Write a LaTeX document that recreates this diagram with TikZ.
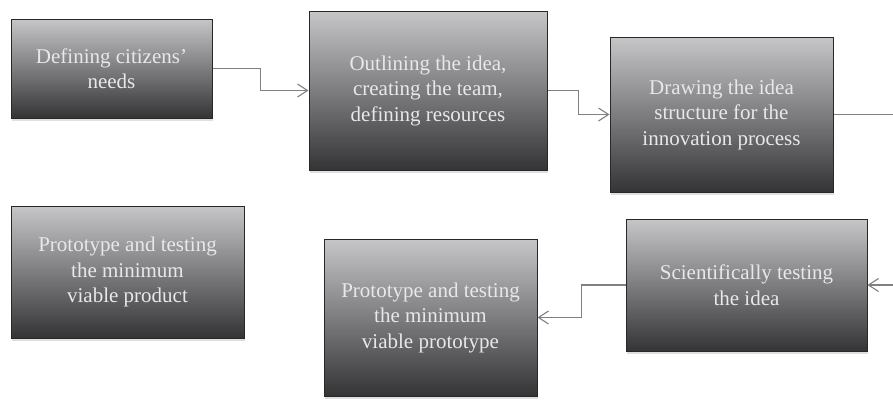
\documentclass[tikz,border=0pt]{standalone}
\usepackage{fontspec}
\setmainfont{Liberation Serif}
\usetikzlibrary{calc,arrows.meta,shadows}
\definecolor{topg}{RGB}{198,198,200}
\definecolor{botg}{RGB}{52,52,54}
\definecolor{edgeg}{RGB}{40,40,40}
\definecolor{textg}{RGB}{232,232,232}
\definecolor{lineg}{RGB}{128,128,128}
\tikzset{
  stepbox/.style={draw=edgeg, line width=1pt, top color=topg, bottom color=botg,
    text=textg, align=center, inner sep=0pt, anchor=center,
    font=\fontsize{21}{25.5}\selectfont,
    drop shadow={shadow xshift=1pt, shadow yshift=-2.5pt, opacity=0.25}},
  conn/.style={draw=lineg, line width=1.1pt, -{Straight Barb[length=10pt,width=13pt,line width=1.1pt]}},
  plain/.style={draw=lineg, line width=1.1pt}
}
\begin{document}
\begin{tikzpicture}[x=1pt,y=1pt]
\useasboundingbox[fill=white] (0,0) rectangle (893,-399);
\node[stepbox, minimum width=201pt, minimum height=99pt] (b1) at (111.5,-68.5) {Defining citizens’\\needs};
\node[stepbox, minimum width=238pt, minimum height=159pt] (b2) at (428,-90.5) {Outlining the idea,\\creating the team,\\defining resources};
\node[stepbox, minimum width=223pt, minimum height=155pt] (b3) at (721.5,-114.5) {Drawing the idea\\structure for the\\innovation process};
\node[stepbox, minimum width=241pt, minimum height=132pt] (b4) at (746.5,-285) {Scientifically testing\\the idea};
\node[stepbox, minimum width=213pt, minimum height=157pt] (b5) at (430.5,-317.5) {Prototype and testing\\the minimum\\viable prototype};
\node[stepbox, minimum width=233pt, minimum height=132pt] (b6) at (127.5,-272) {Prototype and testing\\the minimum\\viable product};
\coordinate (out3) at (893,-114.5);
\coordinate (in4) at (893,-285);
\draw[conn] (b1.east) -| ($(b1.east)!.5!(b2.west)$) |- (b2.west);
\draw[conn] (b2.east) -| ($(b2.east)!.5!(b3.west)$) |- (b3.west);
\draw[plain] (b3.east) -- (out3);
\draw[conn] (in4) -- (b4.east);
\draw[conn] (b4.west) -| ($(b4.west)!.5!(b5.east)$) |- (b5.east);
\end{tikzpicture}
\end{document}
